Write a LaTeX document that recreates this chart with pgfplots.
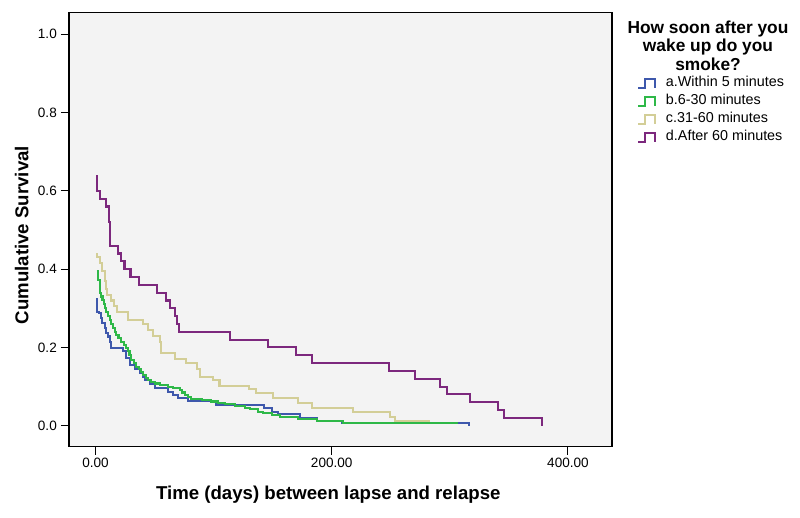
\documentclass[border=0pt]{standalone}
\usepackage{pgfplots}
\pgfplotsset{compat=1.18}
\usepackage{fontspec}
\setmainfont{Liberation Sans}
\definecolor{cA}{HTML}{3E58AC}
\definecolor{cB}{HTML}{2EB848}
\definecolor{cC}{HTML}{D3CE97}
\definecolor{cD}{HTML}{7C287D}
\definecolor{bg}{HTML}{F3F3F3}
\begin{document}
\begin{tikzpicture}
\begin{axis}[
  at={(0,0)}, anchor=south west,
  width=543bp, height=434.2bp, scale only axis,
  xmin=-22.4, xmax=437.3, ymin=-0.053, ymax=1.056,
  axis background/.style={fill=bg},
  axis line style={black, line width=1.3bp},
  xtick={0,200,400}, xticklabels={0.00,200.00,400.00},
  ytick={0,0.2,0.4,0.6,0.8,1.0}, yticklabels={0.0,0.2,0.4,0.6,0.8,1.0},
  tick align=outside, xtick pos=left, ytick pos=left,
  major tick length=8bp,
  every tick/.style={black, line width=1.1bp},
  tick label style={font=\fontsize{13.6}{16}\selectfont, text=black, inner sep=0pt},
  xticklabel style={anchor=north, yshift=-3bp},
  yticklabel style={anchor=east, xshift=-4bp},
  xlabel={Time (days) between lapse and relapse},
  xlabel style={at={(axis description cs:0.4775,-0.1232)}, anchor=base, inner sep=0pt, font=\bfseries\fontsize{18.7}{22}\selectfont},
  ylabel={Cumulative Survival},
  ylabel style={at={(axis description cs:-0.087,0.487)}, anchor=center, inner sep=0pt, font=\bfseries\fontsize{18.7}{22}\selectfont},
  legend cell align=left,
  legend image code/.code={\draw[#1] (0bp,-4.5bp) -- (6.7bp,-4.5bp) -- (6.7bp,4.5bp) -- (16.7bp,4.5bp) -- (16.7bp,-4.5bp);},
  legend style={at={(axis description cs:1.046,0.8527)}, anchor=north west, draw=none, fill=none, inner sep=0pt,
    font=\fontsize{14.4}{17}\selectfont, row sep=4.5bp, column sep=10bp,
    nodes={inner sep=0pt, text height=10.5bp, text depth=3bp}},
  extra description/.code={
    \node[font=\bfseries\fontsize{17.4}{18.5}\selectfont, anchor=base, inner sep=0pt] at (axis description cs:1.1768,0.9512) {How soon after you};
    \node[font=\bfseries\fontsize{17.4}{18.5}\selectfont, anchor=base, inner sep=0pt] at (axis description cs:1.1768,0.9086) {wake up do you};
    \node[font=\bfseries\fontsize{17.4}{18.5}\selectfont, anchor=base, inner sep=0pt] at (axis description cs:1.1768,0.8660) {smoke?};
  },
]
% a. Within 5 minutes
\addplot[cA, const plot, line width=2.1bp] coordinates {
(1.3,0.326)(1.3,0.291)(3,0.287)(4.4,0.275)(5.5,0.262)(7.8,0.249)(9.2,0.236)(10.6,0.228)(12,0.215)(13.4,0.198)
(23.3,0.19)(26.1,0.172)(28.9,0.155)(33.2,0.144)(37.4,0.134)(40.2,0.125)(41.6,0.117)(45.9,0.108)(50.1,0.096)
(61.4,0.087)(65.6,0.079)(69.9,0.070)(78.3,0.064)(102.3,0.053)(142.7,0.045)(149.2,0.036)(154.8,0.030)
(173.2,0.019)(187.3,0.011)(208.5,0.006)(316.5,0.006)(316.5,0.0)
};
\addlegendentry{a.Within 5 minutes}
% b. 6-30 minutes
\addplot[cB, const plot, line width=2.1bp] coordinates {
(1.3,0.394)(2.1,0.372)(3.5,0.355)(4.2,0.338)(4.9,0.33)(6,0.321)(7.2,0.31)(8.2,0.30)(9.2,0.29)(10.5,0.28)
(12,0.27)(13.3,0.26)(14.8,0.249)(16.2,0.24)(17.6,0.232)(19.5,0.225)(21.9,0.215)(24,0.207)(26.1,0.198)
(27.5,0.19)(28.8,0.18)(30.3,0.168)(32.4,0.16)(34.5,0.151)(36.5,0.145)(38.5,0.138)(40.2,0.130)(42.5,0.123)
(44.5,0.117)(47,0.112)(50.1,0.108)(55,0.104)(61.4,0.100)(66,0.096)(71.3,0.091)(73.5,0.085)(75.5,0.079)
(78,0.073)(81.1,0.068)(90,0.065)(98.1,0.062)(104,0.059)(109.4,0.056)(118,0.051)(126.3,0.046)(131,0.042)
(137.6,0.036)(142.1,0.032)(149.2,0.028)(156.2,0.022)(171.7,0.017)(187.3,0.012)(209.8,0.008)(307.2,0.008)
};
\addlegendentry{b.6-30 minutes}
% c. 31-60 minutes
\addplot[cC, const plot, line width=2.1bp] coordinates {
(1.3,0.44)(1.3,0.43)(3.5,0.415)(5.5,0.395)(7.8,0.37)(9.2,0.35)(10,0.335)(13.4,0.32)(15.7,0.305)(18.5,0.29)
(27.5,0.27)(40.2,0.26)(44.5,0.245)(48.7,0.23)(54.3,0.215)(55.7,0.185)(67,0.17)(76.9,0.16)(86,0.145)
(88.2,0.125)(99.5,0.117)(105,0.102)(130,0.093)(136,0.083)(150.6,0.070)(171.7,0.057)(183,0.046)
(218.3,0.034)(249.4,0.023)(253.6,0.012)(283.2,0.012)
};
\addlegendentry{c.31-60 minutes}
% d. After 60 minutes
\addplot[cD, const plot, line width=2.1bp] coordinates {
(1.3,0.64)(1.3,0.60)(3.8,0.58)(8.8,0.56)(11.1,0.52)(12.5,0.46)(19,0.44)(21.8,0.42)(24.6,0.40)(29.7,0.38)
(36.5,0.36)(52.1,0.34)(59.4,0.32)(62.8,0.30)(67,0.28)(69,0.26)(70.4,0.24)(113.6,0.22)(146,0.20)(170,0.18)
(183,0.16)(248.5,0.14)(270.5,0.12)(291.7,0.10)(297.9,0.08)(317.1,0.06)(340.6,0.04)(345.9,0.02)(377.8,0.0)
};
\addlegendentry{d.After 60 minutes}
\end{axis}
\pgfresetboundingbox
\useasboundingbox (-69bp,-71.5bp) rectangle (731bp,446.5bp);
\end{tikzpicture}
\end{document}
